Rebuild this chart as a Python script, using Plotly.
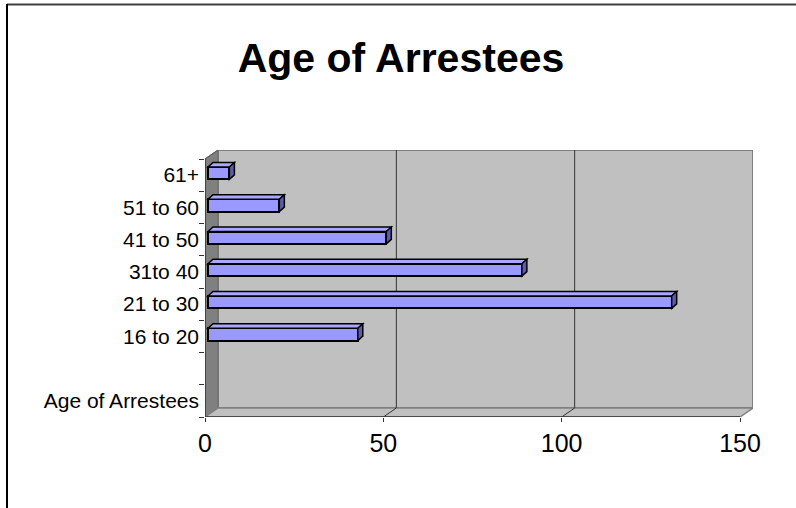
import plotly.graph_objects as go

# ---- data (bottom to top) ----
categories = ["Age of Arrestees", " ", "16 to 20", "21 to 30", "31to 40",
              "41 to 50", "51 to 60", "61+"]
values = [None, None, 42, 130, 88, 50, 20, 6]
x_ticks = [0, 50, 100, 150]

# ---- geometry / style constants ----
W, H = 796, 508
px_left, px_front_right, px_back_right = 205, 740, 753
px_bottom, px_top = 417, 150
ppu = (px_front_right - px_left) / 150.0          # px per x unit
DX = (px_back_right - px_front_right) / ppu        # back-wall depth (x units)
slot = (px_bottom - px_top) / (len(categories) + 9 / 32.25)
DY = 9 / slot                                      # depth in category units
x_max = 150 + DX
y_lo, y_hi = -0.5, len(categories) - 0.5
BASE = 3 / ppu          # bar starts slightly behind the front plane
BAR_W = 0.38
BAR_OFF = -0.13
BDX = 5 / ppu           # bar depth
BDY = 4.5 / slot

FILL = "#9999FF"
TOP = "#A8A8FF"
SIDE = "#5C5CA8"
WALL = "#C0C0C0"
LWALL = "#808080"
FONT = "Liberation Sans, Arial, sans-serif"

ypos = list(range(len(categories)))

fig = go.Figure()
fig.add_trace(go.Bar(
    x=values, y=ypos, orientation="h", base=BASE,
    width=BAR_W, offset=BAR_OFF,
    marker=dict(color=FILL, line=dict(color="black", width=2)),
    hoverinfo="skip", showlegend=False,
))

shapes = []
def path(pts):
    return "M " + " L ".join(f"{x},{y}" for x, y in pts) + " Z"

# back wall, left wall, floor
shapes.append(dict(type="rect", xref="x", yref="y", x0=DX, x1=x_max,
                   y0=y_lo + DY, y1=y_hi + DY, fillcolor=WALL,
                   line=dict(color="#808080", width=2), layer="below"))
shapes.append(dict(type="path", xref="x", yref="y",
                   path=path([(0, y_lo), (0, y_hi), (DX, y_hi + DY), (DX, y_lo + DY)]),
                   fillcolor=LWALL, line=dict(color="#6a6a6a", width=1), layer="below"))
shapes.append(dict(type="path", xref="x", yref="y",
                   path=path([(0, y_lo), (150, y_lo), (x_max, y_lo + DY), (DX, y_lo + DY)]),
                   fillcolor=WALL, line=dict(color="#808080", width=1.5), layer="below"))
# gridlines on back wall and floor
for t in x_ticks[1:-1]:
    shapes.append(dict(type="line", xref="x", yref="y", x0=t + DX, x1=t + DX,
                       y0=y_lo + DY, y1=y_hi + DY,
                       line=dict(color="#333333", width=1), layer="below"))
    shapes.append(dict(type="line", xref="x", yref="y", x0=t, x1=t + DX,
                       y0=y_lo, y1=y_lo + DY,
                       line=dict(color="#333333", width=1), layer="below"))
# front axis lines
shapes.append(dict(type="line", xref="x", yref="y", x0=0, x1=150, y0=y_lo, y1=y_lo,
                   line=dict(color="#333333", width=1.5)))
shapes.append(dict(type="line", xref="x", yref="y", x0=0, x1=0, y0=y_lo, y1=y_hi,
                   line=dict(color="#333333", width=1.5)))
shapes.append(dict(type="line", xref="x", yref="y", x0=0, x1=DX, y0=y_hi, y1=y_hi + DY,
                   line=dict(color="#555555", width=1)))

# 3D faces of bars
for yi, v in zip(ypos, values):
    if v is None:
        continue
    yb = yi + BAR_OFF
    yt = yb + BAR_W
    x0, x1 = BASE, BASE + v
    shapes.append(dict(type="path", xref="x", yref="y",
                       path=path([(x0, yt), (x0 + BDX, yt + BDY), (x1 + BDX, yt + BDY), (x1, yt)]),
                       fillcolor=TOP, line=dict(color="black", width=1.5)))
    shapes.append(dict(type="path", xref="x", yref="y",
                       path=path([(x1, yb), (x1, yt), (x1 + BDX, yt + BDY), (x1 + BDX, yb + BDY)]),
                       fillcolor=SIDE, line=dict(color="black", width=1.5)))

# outer border (top and left)
shapes.append(dict(type="line", xref="paper", yref="paper", x0=7 / W, x1=1,
                   y0=1 - 4.5 / H, y1=1 - 4.5 / H, line=dict(color="#404040", width=2)))
shapes.append(dict(type="line", xref="paper", yref="paper", x0=7 / W, x1=7 / W,
                   y0=0, y1=1 - 4 / H, line=dict(color="black", width=2)))

fig.update_layout(
    template="none",
    width=W, height=H, autosize=False,
    margin=dict(l=0, r=0, t=0, b=0, pad=0, autoexpand=False),
    paper_bgcolor="white", plot_bgcolor="rgba(0,0,0,0)",
    showlegend=False,
    title=dict(text="<b>Age of Arrestees</b>", x=401 / W, xanchor="center",
               y=1 - 58 / H, yanchor="middle", yref="paper", automargin=False,
               font=dict(family=FONT, size=41, color="black")),
    xaxis=dict(domain=[px_left / W, px_back_right / W], range=[0, x_max],
               tickvals=x_ticks, ticks="outside", ticklen=4, tickcolor="#333333",
               showgrid=False, zeroline=False, showline=False, automargin=False,
               tickfont=dict(family=FONT, size=25, color="black"),
               ticklabelstandoff=0, fixedrange=True),
    yaxis=dict(domain=[(H - px_bottom) / H, (H - px_top) / H], range=[y_lo, y_hi + DY],
               tickvals=ypos, ticktext=categories, ticks="",
               minor=dict(tickvals=[i - 0.5 for i in range(len(categories) + 1)],
                          ticks="outside", ticklen=5, tickcolor="#333333", showgrid=False),
               showgrid=False, zeroline=False, showline=False, automargin=False,
               tickfont=dict(family=FONT, size=21, color="black"),
               ticklabelstandoff=5, fixedrange=True),
    shapes=shapes,
    bargap=0,
)

fig.write_html("out.html", config={"responsive": False, "displayModeBar": False},
               post_script="document.body.style.margin='0';document.body.style.overflow='hidden';")
